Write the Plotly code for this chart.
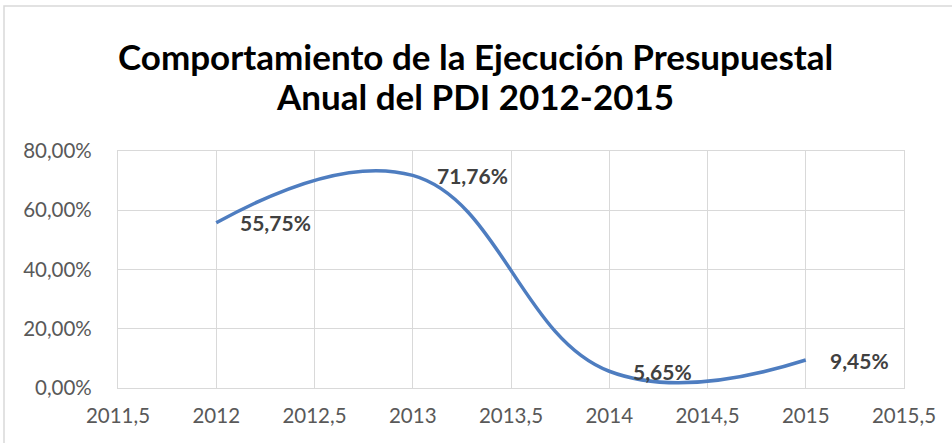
import plotly.graph_objects as go

years = [2012, 2013, 2014, 2015]
values = [55.75, 71.76, 5.65, 9.45]
labels = ["55,75%", "71,76%", "5,65%", "9,45%"]
title_lines = ["Comportamiento de la Ejecución Presupuestal", "Anual del PDI 2012-2015"]

W, H = 952, 443
L, R, T, B = 118, 48, 151, 55
pw, ph = W - L - R, H - T - B


def px(sx):  # pixel x -> paper x
    return (sx - L) / pw


def py(sy):  # pixel y -> paper y
    return (H - B - sy) / ph


fig = go.Figure()
fig.add_trace(go.Scatter(
    x=years, y=values, mode="lines",
    line=dict(color="#4E7DC0", width=3.5, shape="spline", smoothing=1.2),
    hoverinfo="skip", showlegend=False,
))

for x, y, t in zip(years, values, labels):
    fig.add_annotation(x=x, y=y, text=t, showarrow=False, xanchor="left", yanchor="middle",
                       xshift=22, yshift=0,
                       font=dict(family="Lato", size=21, color="#404040", weight="bold"))

for line, sy in zip(title_lines, [56, 96]):
    fig.add_annotation(xref="paper", yref="paper", x=px(475), y=py(sy),
                       text="<b>" + line + "</b>",
                       showarrow=False, xanchor="center", yanchor="middle",
                       font=dict(family="Lato", size=35, color="#000000"))

# chart border
fig.add_shape(type="rect", xref="paper", yref="paper",
              x0=px(4), x1=px(980), y0=py(480), y1=py(6),
              line=dict(color="#D9D9D9", width=1.5), fillcolor="rgba(0,0,0,0)", layer="below")

fig.update_layout(
    width=W, height=H,
    margin=dict(l=L, r=R, t=T, b=B, autoexpand=False),
    paper_bgcolor="white", plot_bgcolor="white",
    separators=",.",
    font=dict(family="Lato", color="#595959", size=18),
    xaxis=dict(range=[2011.5, 2015.5], dtick=0.5, tick0=2011.5, tickformat=".1~f",
               showgrid=True, gridcolor="#D9D9D9", gridwidth=1.2,
               showline=True, linecolor="#D9D9D9", linewidth=1.2, mirror=True,
               zeroline=False, ticks="outside", ticklen=9, tickcolor="rgba(0,0,0,0)",
               tickfont=dict(size=20.5, color="#595959")),
    yaxis=dict(range=[0, 80], dtick=20, tickformat=".2f", ticksuffix="%",
               showgrid=True, gridcolor="#D9D9D9", gridwidth=1.2,
               showline=True, linecolor="#D9D9D9", linewidth=1.2, mirror=True,
               zeroline=False, ticks="outside", ticklen=21, tickcolor="rgba(0,0,0,0)",
               tickfont=dict(size=20.5, color="#595959")),
)

fig.write_html("out.html", config={"displayModeBar": False},
               post_script="document.body.style.margin='0px';")
